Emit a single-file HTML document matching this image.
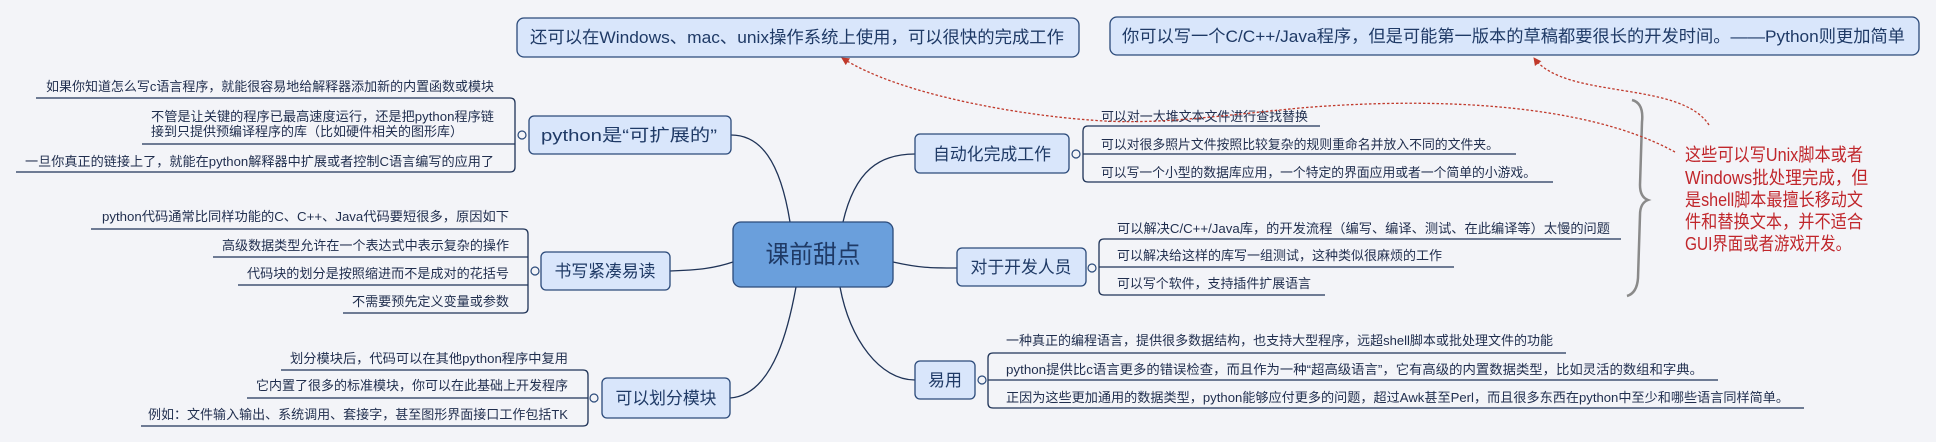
<!DOCTYPE html>
<html><head><meta charset="utf-8"><style>
html,body{margin:0;padding:0;background:#f3f4f8;}
svg{display:block;}
text{font-family:"Liberation Sans","Noto Sans CJK SC",sans-serif;}
.c{font-size:13px;fill:#1f2d4d;}
.b{font-size:17px;fill:#1f3a66;}
.ln{fill:none;stroke:#1f3357;stroke-width:1.3;}
.box{fill:#d9e6fb;stroke:#2b4a7a;stroke-width:1.3;}
.dot{fill:#f3f4f8;stroke:#2b4a7a;stroke-width:1.2;}
.red{fill:none;stroke:#c0392b;stroke-width:1.3;stroke-dasharray:2.5 2;}
.rt{font-size:18px;fill:#c0262b;}
</style></head><body>
<svg width="1936" height="442" viewBox="0 0 1936 442" xmlns="http://www.w3.org/2000/svg">
<defs>
<marker id="ah" markerWidth="8" markerHeight="8" refX="7" refY="4" orient="auto" markerUnits="userSpaceOnUse">
<path d="M0,0 L8,4 L0,8 z" fill="#c0392b"/></marker>
</defs>
<rect width="1936" height="442" fill="#f3f4f8"/>

<!-- top boxes -->
<rect class="box" x="517" y="18" width="562" height="39" rx="7"/>
<text class="b" x="530" y="43" font-size="19" textLength="534" lengthAdjust="spacingAndGlyphs">还可以在Windows、mac、unix操作系统上使用，可以很快的完成工作</text>
<rect class="box" x="1110" y="17" width="809" height="38" rx="7"/>
<text class="b" x="1122" y="42" font-size="19" textLength="783" lengthAdjust="spacingAndGlyphs">你可以写一个C/C++/Java程序，但是可能第一版本的草稿都要很长的开发时间。——Python则更加简单</text>

<!-- center connections -->
<path class="ln" d="M731,135 C760,135 780,160 790,222"/>
<path class="ln" d="M843,222 C855,170 880,154 915,154"/>
<path class="ln" d="M670,271 C700,270 715,268 733,262"/>
<path class="ln" d="M730,398 C775,395 790,320 796,287"/>
<path class="ln" d="M840,287 C850,340 880,380 915,380"/>
<path class="ln" d="M893,262 C920,268 930,268 957,268"/>

<!-- center -->
<rect x="733" y="222" width="160" height="65" rx="8" fill="#6a9fdc" stroke="#2b4a7a" stroke-width="1.3"/>
<text x="813" y="263" text-anchor="middle" font-size="25" fill="#1f3a66" textLength="95" lengthAdjust="spacingAndGlyphs">课前甜点</text>

<!-- python 可扩展 -->
<rect class="box" x="529" y="116" width="202" height="38" rx="5"/>
<text class="b" x="541" y="141" textLength="176" lengthAdjust="spacingAndGlyphs">python是“可扩展的”</text>
<path class="ln" d="M36,98 L510,98 Q515,98 515,103 L515,167 Q515,172 510,172 L16,172"/>
<path class="ln" d="M142,144 L515,144"/>
<circle class="dot" cx="522" cy="135" r="4"/>
<text class="c" x="494" y="91" text-anchor="end" textLength="448" lengthAdjust="spacingAndGlyphs">如果你知道怎么写c语言程序，就能很容易地给解释器添加新的内置函数或模块</text>
<text class="c" x="151" y="121" textLength="343" lengthAdjust="spacingAndGlyphs">不管是让关键的程序已最高速度运行，还是把python程序链</text>
<text class="c" x="151" y="136" textLength="312" lengthAdjust="spacingAndGlyphs">接到只提供预编译程序的库（比如硬件相关的图形库）</text>
<text class="c" x="494" y="166" text-anchor="end" textLength="469" lengthAdjust="spacingAndGlyphs">一旦你真正的链接上了，就能在python解释器中扩展或者控制C语言编写的应用了</text>

<!-- 书写紧凑易读 -->
<rect class="box" x="541" y="252" width="129" height="38" rx="5"/>
<text class="b" x="605" y="277" text-anchor="middle" textLength="101" lengthAdjust="spacingAndGlyphs">书写紧凑易读</text>
<path class="ln" d="M91,229 L523,229 Q528,229 528,234 L528,308 Q528,313 523,313 L343,313"/>
<path class="ln" d="M213,257 L528,257"/>
<path class="ln" d="M238,285 L528,285"/>
<circle class="dot" cx="535" cy="271" r="4"/>
<text class="c" x="509" y="221" text-anchor="end" textLength="407" lengthAdjust="spacingAndGlyphs">python代码通常比同样功能的C、C++、Java代码要短很多，原因如下</text>
<text class="c" x="509" y="250" text-anchor="end" textLength="287" lengthAdjust="spacingAndGlyphs">高级数据类型允许在一个表达式中表示复杂的操作</text>
<text class="c" x="509" y="278" text-anchor="end" textLength="262" lengthAdjust="spacingAndGlyphs">代码块的划分是按照缩进而不是成对的花括号</text>
<text class="c" x="509" y="306" text-anchor="end" textLength="157" lengthAdjust="spacingAndGlyphs">不需要预先定义变量或参数</text>

<!-- 可以划分模块 -->
<rect class="box" x="602" y="378" width="128" height="40" rx="5"/>
<text class="b" x="666" y="404" text-anchor="middle" textLength="101" lengthAdjust="spacingAndGlyphs">可以划分模块</text>
<path class="ln" d="M281,370 L583,370 Q588,370 588,375 L588,421 Q588,426 583,426 L141,426"/>
<path class="ln" d="M247,398 L588,398"/>
<circle class="dot" cx="594" cy="398" r="4"/>
<text class="c" x="568" y="363" text-anchor="end" textLength="278" lengthAdjust="spacingAndGlyphs">划分模块后，代码可以在其他python程序中复用</text>
<text class="c" x="568" y="390" text-anchor="end" textLength="312" lengthAdjust="spacingAndGlyphs">它内置了很多的标准模块，你可以在此基础上开发程序</text>
<text class="c" x="568" y="419" text-anchor="end" textLength="420" lengthAdjust="spacingAndGlyphs">例如：文件输入输出、系统调用、套接字，甚至图形界面接口工作包括TK</text>

<!-- 自动化完成工作 -->
<rect class="box" x="915" y="134" width="154" height="39" rx="5"/>
<text class="b" x="992" y="160" text-anchor="middle" textLength="118" lengthAdjust="spacingAndGlyphs">自动化完成工作</text>
<path class="ln" d="M1320,126 L1088,126 Q1083,126 1083,131 L1083,177 Q1083,182 1088,182 L1553,182"/>
<path class="ln" d="M1083,154 L1516,154"/>
<circle class="dot" cx="1076" cy="154" r="4"/>
<text class="c" x="1101" y="121" textLength="207" lengthAdjust="spacingAndGlyphs">可以对一大堆文本文件进行查找替换</text>
<text class="c" x="1101" y="149" textLength="398" lengthAdjust="spacingAndGlyphs">可以对很多照片文件按照比较复杂的规则重命名并放入不同的文件夹。</text>
<text class="c" x="1101" y="177" textLength="435" lengthAdjust="spacingAndGlyphs">可以写一个小型的数据库应用，一个特定的界面应用或者一个简单的小游戏。</text>

<!-- 对于开发人员 -->
<rect class="box" x="957" y="248" width="129" height="38" rx="5"/>
<text class="b" x="1021" y="273" text-anchor="middle" textLength="101" lengthAdjust="spacingAndGlyphs">对于开发人员</text>
<path class="ln" d="M1621,239 L1104,239 Q1099,239 1099,244 L1099,290 Q1099,295 1104,295 L1325,295"/>
<path class="ln" d="M1099,267 L1454,267"/>
<circle class="dot" cx="1092" cy="268" r="4"/>
<text class="c" x="1117" y="233" textLength="493" lengthAdjust="spacingAndGlyphs">可以解决C/C++/Java库，的开发流程（编写、编译、测试、在此编译等）太慢的问题</text>
<text class="c" x="1117" y="260" textLength="325" lengthAdjust="spacingAndGlyphs">可以解决给这样的库写一组测试，这种类似很麻烦的工作</text>
<text class="c" x="1117" y="288" textLength="194" lengthAdjust="spacingAndGlyphs">可以写个软件，支持插件扩展语言</text>

<!-- 易用 -->
<rect class="box" x="915" y="361" width="60" height="38" rx="5"/>
<text class="b" x="945" y="386" text-anchor="middle">易用</text>
<path class="ln" d="M1566,353 L993,353 Q988,353 988,358 L988,403 Q988,408 993,408 L1804,408"/>
<path class="ln" d="M988,380 L1718,380"/>
<circle class="dot" cx="982" cy="380" r="4"/>
<text class="c" x="1006" y="345" textLength="547" lengthAdjust="spacingAndGlyphs">一种真正的编程语言，提供很多数据结构，也支持大型程序，远超shell脚本或批处理文件的功能</text>
<text class="c" x="1006" y="374" textLength="697" lengthAdjust="spacingAndGlyphs">python提供比c语言更多的错误检查，而且作为一种“超高级语言”，它有高级的内置数据类型，比如灵活的数组和字典。</text>
<text class="c" x="1006" y="402" textLength="783" lengthAdjust="spacingAndGlyphs">正因为这些更加通用的数据类型，python能够应付更多的问题，超过Awk甚至Perl，而且很多东西在python中至少和哪些语言同样简单。</text>

<!-- brace -->
<path d="M1632,100 Q1644,103 1642,122 L1640,185 Q1640,197 1648,200 Q1640,203 1640,215 L1638,278 Q1637,293 1627,296" fill="none" stroke="#8a8a8a" stroke-width="2.5"/>

<!-- red note -->
<text class="rt" x="1685" y="161" textLength="178" lengthAdjust="spacingAndGlyphs">这些可以写Unix脚本或者</text>
<text class="rt" x="1685" y="184" textLength="183" lengthAdjust="spacingAndGlyphs">Windows批处理完成，但</text>
<text class="rt" x="1685" y="206" textLength="178" lengthAdjust="spacingAndGlyphs">是shell脚本最擅长移动文</text>
<text class="rt" x="1685" y="228" textLength="178" lengthAdjust="spacingAndGlyphs">件和替换文本，并不适合</text>
<text class="rt" x="1685" y="250" textLength="166" lengthAdjust="spacingAndGlyphs">GUI界面或者游戏开发。</text>

<!-- red arrows -->
<path class="red" d="M1709,125 C1680,80 1565,100 1534,58" marker-end="url(#ah)"/>
<path class="red" d="M1675,152 C1580,100 1420,98 1300,108 C1200,118 1150,125 1090,120 C1020,115 900,95 842,58" marker-end="url(#ah)"/>
</svg>
</body></html>
